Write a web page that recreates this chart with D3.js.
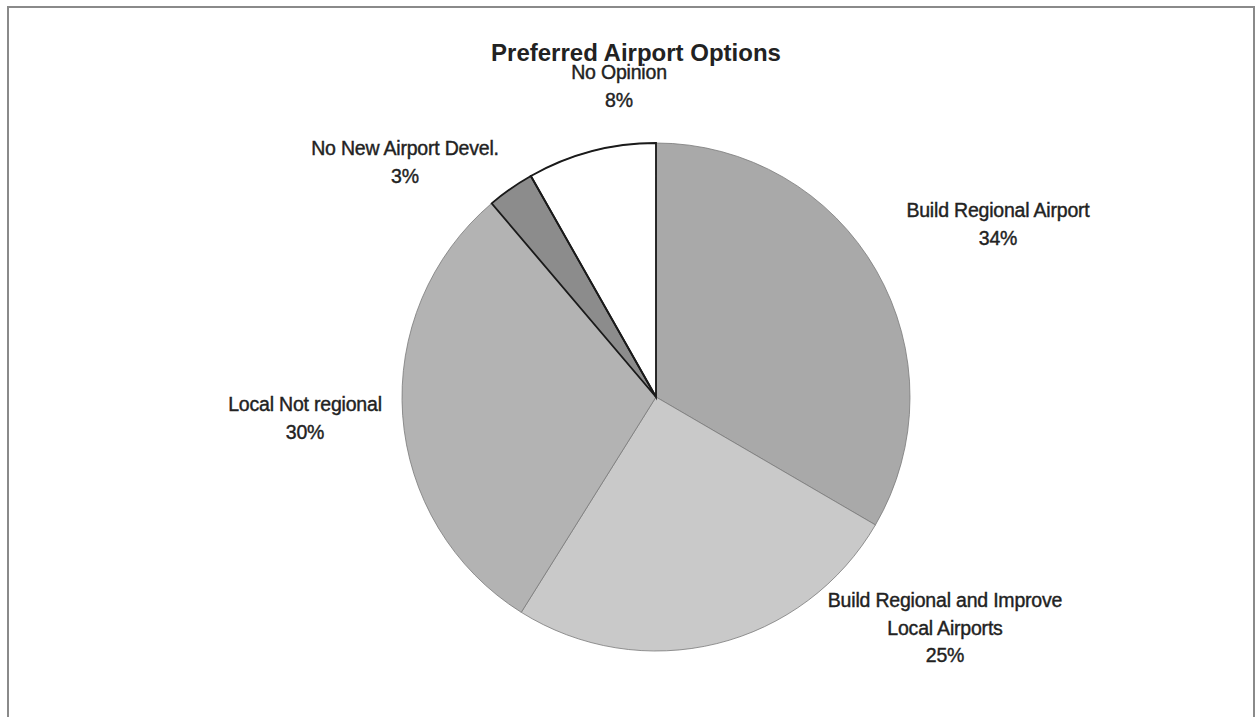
<!DOCTYPE html>
<html>
<head>
<meta charset="utf-8">
<script src="https://cdn.jsdelivr.net/npm/d3@7"></script>
<style>
  html, body { margin: 0; padding: 0; background: #fff; }
  svg { display: block; }
</style>
</head>
<body>
<svg id="chart" width="1259" height="717"></svg>
<script>
// ---- data ----
const title = "Preferred Airport Options";
const categories = ["Build Regional Airport", "Build Regional and Improve Local Airports", "Local Not regional", "No New Airport Devel.", "No Opinion"];
const values = [33.4, 25.5, 29.9, 3.0, 8.2];          // slice sizes
const percentLabels = ["34%", "25%", "30%", "3%", "8%"]; // printed percentages
const labelLines = [
  ["Build Regional Airport"],
  ["Build Regional and Improve", "Local Airports"],
  ["Local Not regional"],
  ["No New Airport Devel."],
  ["No Opinion"]
];
const fills = ["#a9a9a9", "#c9c9c9", "#b3b3b3", "#8c8c8c", "#ffffff"];

// ---- layout ----
const W = 1259, H = 717;
const cx = 656, cy = 397, R = 254;
// label block centre x and y of first line
const labelPos = [
  {x: 998, y: 212},
  {x: 945, y: 602},
  {x: 305, y: 406},
  {x: 405, y: 150},
  {x: 619, y: 74}
];
const lineH = 27.5;

const svg = d3.select("#chart");

// frame
svg.append("rect")
  .attr("x", 8).attr("y", 7)
  .attr("width", 1246).attr("height", 730)
  .attr("fill", "none").attr("stroke", "#8a8a8a").attr("stroke-width", 2);

const pie = d3.pie().sort(null).value(d => d)(values);
const arc = d3.arc().innerRadius(0).outerRadius(R);

const g = svg.append("g").attr("transform", `translate(${cx},${cy})`);
g.selectAll("path")
  .data(pie)
  .join("path")
  .attr("d", arc)
  .attr("fill", (d, i) => fills[i])
  .attr("stroke", "#7a7a7a")
  .attr("stroke-width", 0.8)
  .attr("stroke-linejoin", "round");
// dark outline on the two small slices
g.selectAll("path.top")
  .data(pie.filter((d, i) => i >= 3))
  .join("path")
  .attr("class", "top")
  .attr("d", arc)
  .attr("fill", "none")
  .attr("stroke", "#1a1a1a")
  .attr("stroke-width", 1.8);

// title
svg.append("text")
  .attr("x", 636).attr("y", 61)
  .attr("text-anchor", "middle")
  .attr("font-family", "Liberation Sans, Arial, sans-serif")
  .attr("font-weight", "bold")
  .attr("font-size", 24)
  .attr("fill", "#222")
  .text(title);

// labels
const lab = svg.append("g")
  .attr("font-family", "Liberation Sans, Arial, sans-serif")
  .attr("font-size", 19.5)
  .attr("fill", "#222")
  .attr("stroke", "#222")
  .attr("stroke-width", 0.4)
  .attr("text-anchor", "middle");

categories.forEach((c, i) => {
  const p = labelPos[i];
  const lines = labelLines[i].concat([percentLabels[i]]);
  lines.forEach((ln, j) => {
    lab.append("text")
      .attr("x", p.x).attr("y", p.y + j * lineH)
      .attr("dominant-baseline", "middle")
      .attr("letter-spacing", -0.2)
      .text(ln);
  });
});
</script>
</body>
</html>
